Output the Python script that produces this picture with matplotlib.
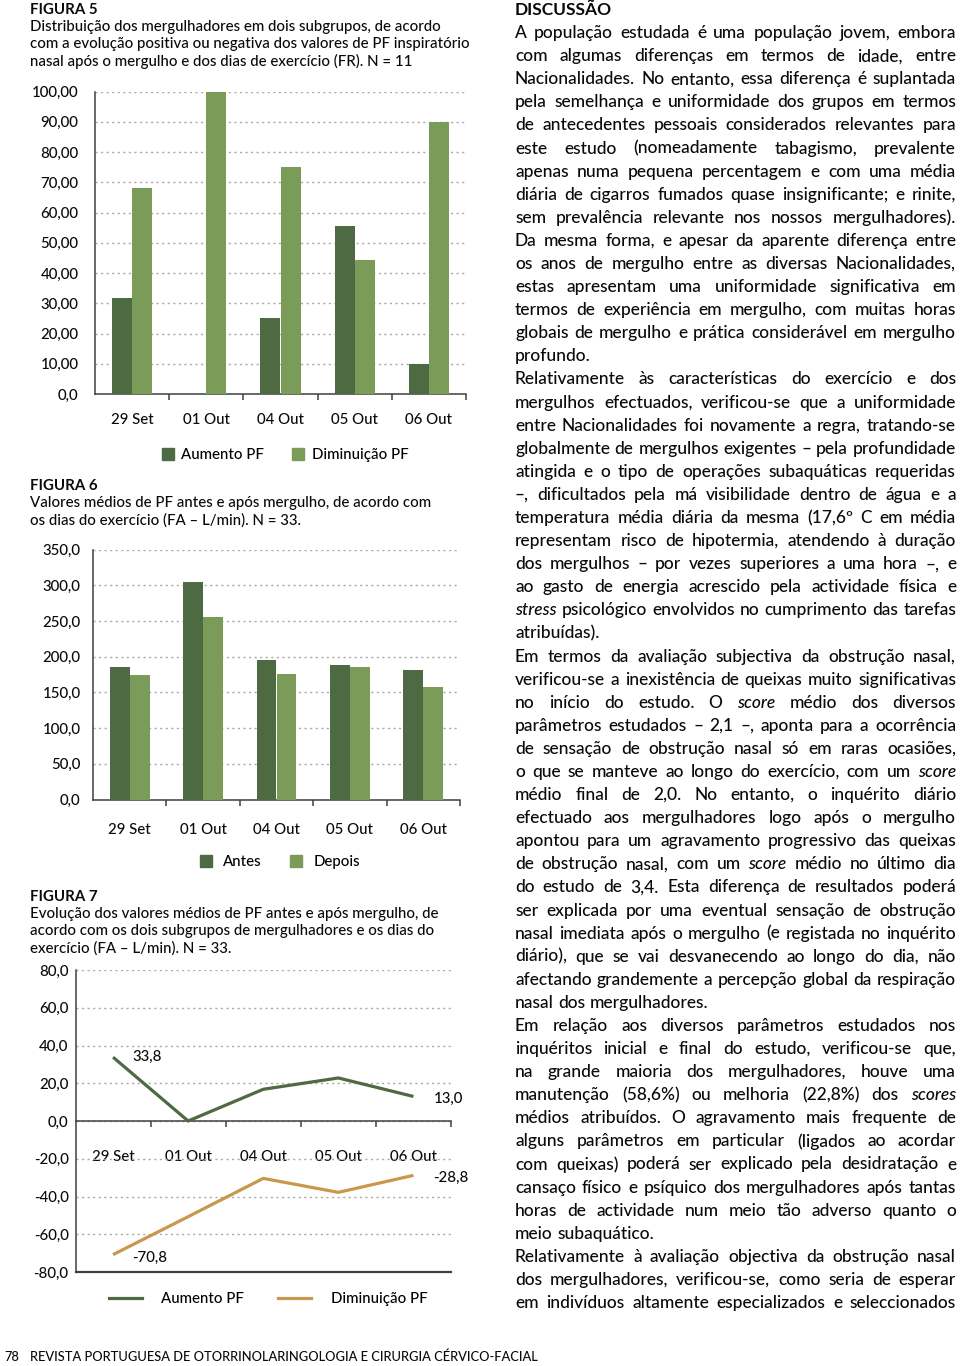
import numpy as np
import matplotlib.pyplot as plt
from matplotlib.patches import Patch
from matplotlib.lines import Line2D

W, H = 960, 1366
FONTE = 'Lato'
plt.rcParams['font.family'] = [FONTE, 'DejaVu Sans']
plt.rcParams['font.weight'] = 'medium'

# dados das figuras
dias = ['29 Set', '01 Out', '04 Out', '05 Out', '06 Out']

aumento_f5 = [31.8, 0.0, 25.0, 55.6, 10.0]
diminuicao_f5 = [68.2, 100.0, 75.0, 44.4, 90.0]
yvals_f5 = [0, 10, 20, 30, 40, 50, 60, 70, 80, 90, 100]
ylab_f5 = ['0,0', '10,00', '20,00', '30,00', '40,00', '50,00',
           '60,00', '70,00', '80,00', '90,00', '100,00']

antes_f6 = [186, 305, 195, 188, 182]
depois_f6 = [175, 255, 176, 185, 158]
yvals_f6 = [0, 50, 100, 150, 200, 250, 300, 350]
ylab_f6 = ['0,0', '50,0', '100,0', '150,0', '200,0', '250,0', '300,0', '350,0']

aumento_f7 = [33.8, 0.0, 16.8, 22.8, 13.0]
diminuicao_f7 = [-70.8, -50.7, -30.4, -37.8, -28.8]
yvals_f7 = [-80, -60, -40, -20, 0, 20, 40, 60, 80]
ylab_f7 = ['-80,0', '-60,0', '-40,0', '-20,0', '0,0', '20,0', '40,0', '60,0', '80,0']
rotulos_f7 = [0, 4]   # pontos com valor escrito

VERDE_ESC = '#4e6a42'
VERDE_CLA = '#7a9c58'
LARANJA = '#c9974d'
EIXO = '#404040'
TXT = '#0a0a0a'

legendas = {
    'f5': ['Aumento PF', 'Diminuição PF'],
    'f6': ['Antes', 'Depois'],
    'f7': ['Aumento PF', 'Diminuição PF'],
}

legendas_fig = {
    5: ('FIGURA 5', ['Distribuição dos mergulhadores em dois subgrupos, de acordo',
                     'com a evolução positiva ou negativa dos valores de PF inspiratório',
                     'nasal após o mergulho e dos dias de exercício (FR). N = 11'], 10),
    6: ('FIGURA 6', ['Valores médios de PF antes e após mergulho, de acordo com',
                     'os dias do exercício (FA – L/min). N = 33.'], 486),
    7: ('FIGURA 7', ['Evolução dos valores médios de PF antes e após mergulho, de',
                     'acordo com os dois subgrupos de mergulhadores e os dias do',
                     'exercício (FA – L/min). N = 33.'], 897),
}

discussao = [
    'A população estudada é uma população jovem, embora',
    'com algumas diferenças em termos de idade, entre',
    'Nacionalidades. No entanto, essa diferença é suplantada',
    'pela semelhança e uniformidade dos grupos em termos',
    'de antecedentes pessoais considerados relevantes para',
    'este estudo (nomeadamente tabagismo, prevalente',
    'apenas numa pequena percentagem e com uma média',
    'diária de cigarros fumados quase insignificante; e rinite,',
    'sem prevalência relevante nos nossos mergulhadores).',
    'Da mesma forma, e apesar da aparente diferença entre',
    'os anos de mergulho entre as diversas Nacionalidades,',
    'estas apresentam uma uniformidade significativa em',
    'termos de experiência em mergulho, com muitas horas',
    'globais de mergulho e prática considerável em mergulho',
    'profundo.',
    'Relativamente às características do exercício e dos',
    'mergulhos efectuados, verificou-se que a uniformidade',
    'entre Nacionalidades foi novamente a regra, tratando-se',
    'globalmente de mergulhos exigentes – pela profundidade',
    'atingida e o tipo de operações subaquáticas requeridas',
    '–, dificultados pela má visibilidade dentro de água e a',
    'temperatura média diária da mesma (17,6º C em média',
    'representam risco de hipotermia, atendendo à duração',
    'dos mergulhos – por vezes superiores a uma hora –, e',
    'ao gasto de energia acrescido pela actividade física e',
    '_stress_ psicológico envolvidos no cumprimento das tarefas',
    'atribuídas).',
    'Em termos da avaliação subjectiva da obstrução nasal,',
    'verificou-se a inexistência de queixas muito significativas',
    'no início do estudo. O _score_ médio dos diversos',
    'parâmetros estudados – 2,1 –, aponta para a ocorrência',
    'de sensação de obstrução nasal só em raras ocasiões,',
    'o que se manteve ao longo do exercício, com um _score_',
    'médio final de 2,0. No entanto, o inquérito diário',
    'efectuado aos mergulhadores logo após o mergulho',
    'apontou para um agravamento progressivo das queixas',
    'de obstrução nasal, com um _score_ médio no último dia',
    'do estudo de 3,4. Esta diferença de resultados poderá',
    'ser explicada por uma eventual sensação de obstrução',
    'nasal imediata após o mergulho (e registada no inquérito',
    'diário), que se vai desvanecendo ao longo do dia, não',
    'afectando grandemente a percepção global da respiração',
    'nasal dos mergulhadores.',
    'Em relação aos diversos parâmetros estudados nos',
    'inquéritos inicial e final do estudo, verificou-se que,',
    'na grande maioria dos mergulhadores, houve uma',
    'manutenção (58,6%) ou melhoria (22,8%) dos _scores_',
    'médios atribuídos. O agravamento mais frequente de',
    'alguns parâmetros em particular (ligados ao acordar',
    'com queixas) poderá ser explicado pela desidratação e',
    'cansaço físico e psíquico dos mergulhadores após tantas',
    'horas de actividade num meio tão adverso quanto o',
    'meio subaquático.',
    'Relativamente à avaliação objectiva da obstrução nasal',
    'dos mergulhadores, verificou-se, como seria de esperar',
    'em indivíduos altamente especializados e seleccionados',
]
fim_paragrafo = [14, 26, 42, 52]

rodape_num = '78'
rodape = 'REVISTA PORTUGUESA DE OTORRINOLARINGOLOGIA E CIRURGIA CÉRVICO-FACIAL'

fig = plt.figure(figsize=(W / 100, H / 100), dpi=100)
fig.patch.set_facecolor('white')
renderer = fig.canvas.get_renderer()


def ax_px(left, right, top, bottom):
    return fig.add_axes([left / W, 1 - bottom / H, (right - left) / W, (bottom - top) / H])


def texto(x, y, s, **kw):
    return fig.text(x / W, 1 - y / H, s, **kw)


def largura(s, size, **kw):
    t = fig.text(0, 0, s, fontsize=size, **kw)
    w = t.get_window_extent(renderer).width
    t.remove()
    return w


def ajusta(s, alvo, **kw):
    return 10 * alvo / largura(s, 10, **kw)


# ---------- textos das legendas das figuras ----------
tam_leg = ajusta(legendas_fig[5][1][0], 413)
for k, (tit, linhas, y0) in legendas_fig.items():
    texto(30, y0, tit, fontsize=tam_leg, fontweight='bold', va='center', color=TXT)
    for i, l in enumerate(linhas):
        texto(30, y0 + 17 * (i + 1), l, fontsize=tam_leg, va='center', color=TXT)

TAM_EIXO = 10.8


def estilo(ax):
    ax.set_facecolor('none')
    for s in ['top', 'right']:
        ax.spines[s].set_visible(False)
    for s in ['left', 'bottom']:
        ax.spines[s].set_color(EIXO)
        ax.spines[s].set_linewidth(1.1)
    ax.yaxis.grid(True, linestyle=(0, (1.5, 2.5)), color='#a8a8a8', lw=1)
    ax.set_axisbelow(True)
    ax.tick_params(axis='y', length=0, labelsize=TAM_EIXO, colors=TXT)
    ax.tick_params(axis='x', which='major', length=0, labelsize=TAM_EIXO, colors=TXT)
    ax.tick_params(axis='x', which='minor', length=4, width=1.1, color=EIXO, direction='out')
    ax.set_xticks(np.arange(0.5, len(dias), 1), minor=True)
    ax.set_xlim(-0.5, len(dias) - 0.5)


def barras(ax, a, b, nomes, yv, yl, pad_y, pad_x, leg_xy, leg_kw):
    x = np.arange(len(dias))
    ax.bar(x - 0.137, a, 0.27, color=VERDE_ESC, zorder=3)
    ax.bar(x + 0.137, b, 0.27, color=VERDE_CLA, zorder=3)
    estilo(ax)
    ax.set_ylim(yv[0], yv[-1])
    ax.set_yticks(yv, yl)
    ax.set_xticks(x, dias)
    ax.tick_params(axis='y', pad=pad_y)
    ax.tick_params(axis='x', which='major', pad=pad_x)
    hs = [Patch(color=VERDE_ESC), Patch(color=VERDE_CLA)]
    ax.legend(hs, nomes, loc='center', bbox_to_anchor=(leg_xy[0] / W, 1 - leg_xy[1] / H),
              bbox_transform=fig.transFigure, ncol=2, frameon=False, fontsize=TAM_EIXO,
              handlelength=0.8, handleheight=0.8, borderpad=0, **leg_kw)


# ---------- FIGURA 5 ----------
ax1 = ax_px(95, 466, 91.5, 394)
barras(ax1, aumento_f5, diminuicao_f5, legendas['f5'], yvals_f5, ylab_f5,
       12, 13.5, (285, 455), dict(handletextpad=0.5, columnspacing=1.9))

# ---------- FIGURA 6 ----------
ax2 = ax_px(93, 460, 549.5, 799.5)
barras(ax2, antes_f6, depois_f6, legendas['f6'], yvals_f6, ylab_f6,
       9, 17, (280, 862), dict(handletextpad=0.75, columnspacing=1.9))

# ---------- FIGURA 7 ----------
ax3 = ax_px(75.5, 451, 970, 1272)
x = np.arange(len(dias))
ax3.plot(x, aumento_f7, color=VERDE_ESC, lw=2.3, zorder=4, solid_capstyle='butt')
ax3.plot(x, diminuicao_f7, color=LARANJA, lw=2.3, zorder=4, solid_capstyle='butt')
estilo(ax3)
ax3.set_ylim(yvals_f7[0], yvals_f7[-1])
ax3.set_yticks(yvals_f7, ylab_f7)
ax3.set_xticks(x, dias)
ax3.spines['bottom'].set_position(('data', 0))
ax3.axhline(yvals_f7[0], color=EIXO, lw=1.6, zorder=5, clip_on=False)
ax3.tick_params(axis='y', pad=5)
ax3.tick_params(axis='x', which='major', pad=21)
for serie, offs in [(aumento_f7, [(14, 0), (15, -2)]), (diminuicao_f7, [(14, -2.5), (14, -2)])]:
    for i, o in zip(rotulos_f7, offs):
        ax3.annotate(f'{serie[i]:.1f}'.replace('.', ','), (x[i], serie[i]), xytext=o,
                     textcoords='offset points', ha='left', va='center',
                     fontsize=TAM_EIXO, color=TXT)
hs = [Line2D([], [], color=VERDE_ESC, lw=2.3), Line2D([], [], color=LARANJA, lw=2.3)]
ax3.legend(hs, legendas['f7'], loc='center', bbox_to_anchor=(268 / W, 1 - 1299 / H),
           bbox_transform=fig.transFigure, ncol=2, frameon=False, fontsize=TAM_EIXO,
           handlelength=2.2, handletextpad=1.3, columnspacing=2.3, borderpad=0)

# ---------- DISCUSSÃO (texto justificado) ----------
COL_L, COL_R = 515, 956


def palavras(linha):
    out = []
    for w in linha.split(' '):
        if w.startswith('_') and w.endswith('_'):
            out.append((w.strip('_'), 'italic'))
        else:
            out.append((w, 'normal'))
    return out


esp10 = largura('a a', 10) - largura('aa', 10)
maior = 0
for i, l in enumerate(discussao):
    if i in fim_paragrafo:
        continue
    ws = palavras(l)
    nat = sum(largura(w, 10, style=s) for w, s in ws) + esp10 * (len(ws) - 1)
    maior = max(maior, nat)
TAM_TXT = 10 * (COL_R - COL_L) / maior
esp = esp10 * TAM_TXT / 10

ESP_LINHA = 23.09
texto(COL_L, 10, 'DISCUSSÃO', fontsize=TAM_TXT, fontweight='bold', va='center', color=TXT)
for i, l in enumerate(discussao):
    y = 10 + ESP_LINHA * (i + 1)
    ws = palavras(l)
    larg = [largura(w, TAM_TXT, style=s) for w, s in ws]
    if i in fim_paragrafo or len(ws) == 1:
        gap = esp
    else:
        gap = (COL_R - COL_L - sum(larg)) / (len(ws) - 1)
    xx = COL_L
    for (w, s), lw_ in zip(ws, larg):
        texto(xx, y, w, fontsize=TAM_TXT, style=s, va='center', ha='left', color=TXT)
        xx += lw_ + gap

# ---------- rodapé ----------
tam_rod = ajusta(rodape, 509)
texto(4, 1357, rodape_num, fontsize=tam_rod, va='center', color=TXT)
texto(30, 1357, rodape, fontsize=tam_rod, va='center', color=TXT)

fig.savefig('out.png', dpi=100, facecolor='white')
